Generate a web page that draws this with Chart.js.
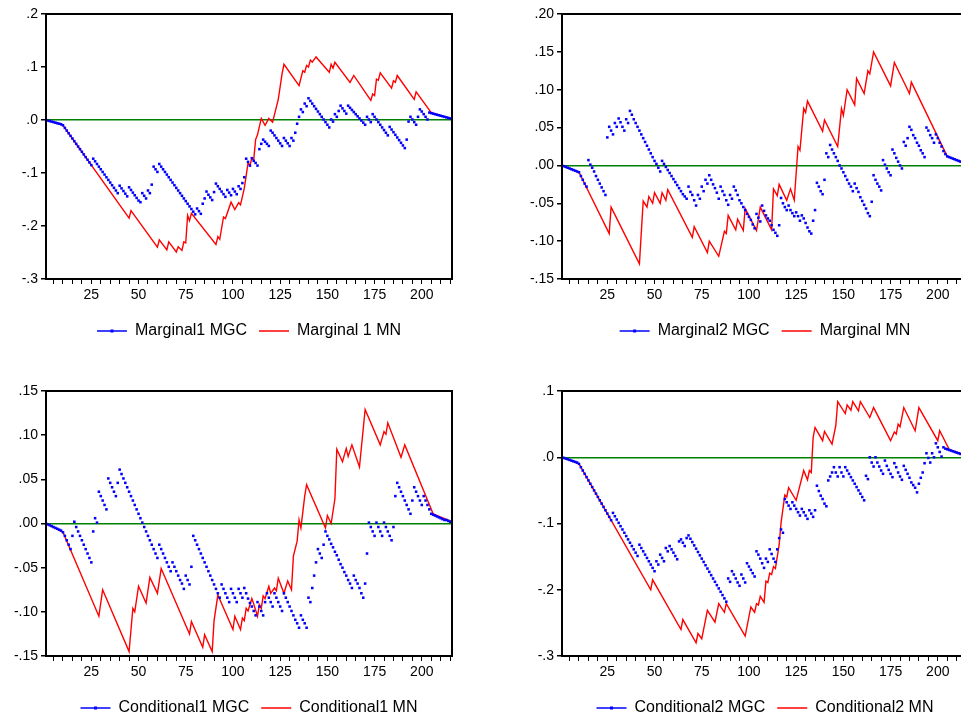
<!DOCTYPE html>
<html>
<head>
<meta charset="utf-8">
<script src="https://cdn.jsdelivr.net/npm/chart.js@4.4.1/dist/chart.umd.min.js"></script>
<style>
  html, body { margin: 0; padding: 0; background: #fff; }
  #page { position: relative; width: 961px; height: 719px; overflow: hidden; background: #fff; }
  #page canvas { position: absolute; }
</style>
</head>
<body>
<div id="page">
  <canvas id="c1" width="480" height="362" style="left:0;top:0"></canvas>
  <canvas id="c2" width="480" height="362" style="left:516px;top:0"></canvas>
  <canvas id="c3" width="480" height="362" style="left:0;top:377px"></canvas>
  <canvas id="c4" width="480" height="362" style="left:516px;top:377px"></canvas>
</div>
<script>
"use strict";

// observations 1..216
const obs = Array.from({length: 216}, (_, i) => i + 1);
const xLabels = [25, 50, 75, 100, 125, 150, 175, 200];

// ---- Marginal 1 ----
const mgc1 = [
  0, -0.001, -0.002, -0.003, -0.004, -0.005, -0.006, -0.007, -0.008, -0.010,
  -0.015, -0.020, -0.025, -0.030, -0.035, -0.040, -0.045, -0.050, -0.055, -0.060,
  -0.065, -0.070, -0.075, -0.080, -0.085, -0.073, -0.078, -0.083, -0.088, -0.093,
  -0.098, -0.103, -0.108, -0.113, -0.118, -0.123, -0.128, -0.133, -0.138, -0.124,
  -0.129, -0.134, -0.139, -0.144, -0.127, -0.132, -0.137, -0.142, -0.147, -0.152,
  -0.155, -0.138, -0.143, -0.148, -0.133, -0.138, -0.122, -0.088, -0.093, -0.098,
  -0.083, -0.088, -0.093, -0.098, -0.103, -0.108, -0.113, -0.118, -0.123, -0.128,
  -0.133, -0.138, -0.143, -0.148, -0.153, -0.158, -0.163, -0.168, -0.173, -0.178,
  -0.167, -0.172, -0.177, -0.158, -0.148, -0.135, -0.141, -0.146, -0.151, -0.136,
  -0.120, -0.125, -0.130, -0.135, -0.140, -0.145, -0.132, -0.137, -0.142, -0.130,
  -0.135, -0.140, -0.125, -0.130, -0.119, -0.108, -0.073, -0.079, -0.086, -0.072,
  -0.077, -0.081, -0.086, -0.055, -0.045, -0.037, -0.041, -0.045, -0.049, -0.020,
  -0.024, -0.029, -0.034, -0.039, -0.044, -0.049, -0.034, -0.039, -0.044, -0.049,
  -0.034, -0.039, -0.024, -0.007, 0.006, 0.020, 0.015, 0.031, 0.026, 0.041,
  0.036, 0.031, 0.026, 0.021, 0.016, 0.011, 0.006, 0.001, -0.004, -0.009,
  -0.014, 0.001, -0.003, 0.011, 0.006, 0.017, 0.027, 0.022, 0.017, 0.012,
  0.027, 0.023, 0.019, 0.015, 0.011, 0.007, 0.003, -0.001, -0.005, -0.009,
  0.006, 0.001, -0.004, 0.011, 0.006, 0.001, -0.004, -0.009, -0.014, -0.019,
  -0.024, -0.029, -0.013, -0.018, -0.023, -0.028, -0.033, -0.038, -0.043, -0.048,
  -0.053, -0.037, -0.003, 0.006, 0.001, -0.004, -0.009, 0.006, 0.020, 0.016,
  0.011, 0.006, 0.001, 0.014, 0.013, 0.012, 0.011, 0.010, 0.009, 0.008,
  0.007, 0.006, 0.005, 0.004, 0.003, 0.002
];
const mn1Obs = [1, 10, 45, 46, 60, 61, 65, 66, 70, 71, 73, 74, 75, 76, 77, 78, 91, 92, 93, 95,
  96, 99, 101, 103, 104, 106, 108, 109, 110, 111, 112, 113, 115, 117, 119, 121, 122, 124, 126, 127,
  135, 137, 138, 139, 140, 141, 142, 144, 151, 152, 153, 154, 162, 164, 173, 174, 175, 176, 177, 178,
  184, 185, 186, 187, 196, 197, 205, 216];
const mn1Val = [0, -0.010, -0.185, -0.171, -0.240, -0.226, -0.245, -0.230, -0.249, -0.239,
  -0.246, -0.230, -0.232, -0.180, -0.190, -0.176, -0.235, -0.220, -0.225, -0.183,
  -0.186, -0.155, -0.169, -0.156, -0.160, -0.129, -0.081, -0.086, -0.072, -0.075,
  -0.037, -0.028, 0.003, -0.010, 0.003, -0.004, 0.010, 0.039, 0.087, 0.105,
  0.065, 0.093, 0.090, 0.103, 0.100, 0.113, 0.109, 0.119, 0.090, 0.105,
  0.098, 0.109, 0.071, 0.084, 0.037, 0.049, 0.046, 0.077, 0.075, 0.089,
  0.060, 0.074, 0.071, 0.084, 0.039, 0.053, 0.014, 0.002];
const y1Ticks = [-0.3, -0.2, -0.1, 0, 0.1, 0.2];

// ---- Marginal 2 ----
const mgc2 = [
  0, -0.001, -0.002, -0.003, -0.004, -0.005, -0.006, -0.007, -0.008, -0.009,
  -0.014, -0.019, -0.024, -0.028, 0.007, 0.001, -0.003, -0.008, -0.014, -0.019,
  -0.024, -0.029, -0.034, -0.039, 0.037, 0.051, 0.046, 0.041, 0.056, 0.051,
  0.062, 0.057, 0.051, 0.046, 0.061, 0.056, 0.072, 0.067, 0.061, 0.056,
  0.051, 0.046, 0.041, 0.036, 0.031, 0.026, 0.021, 0.016, 0.011, 0.006,
  0.002, -0.003, -0.008, 0.006, 0.002, -0.002, -0.006, -0.010, -0.014, -0.018,
  -0.022, -0.026, -0.030, -0.034, -0.038, -0.041, -0.044, -0.028, -0.035, -0.039,
  -0.046, -0.053, -0.039, -0.044, -0.028, -0.034, -0.019, -0.024, -0.013, -0.019,
  -0.025, -0.030, -0.036, -0.044, -0.028, -0.034, -0.039, -0.046, -0.052, -0.039,
  -0.044, -0.028, -0.033, -0.039, -0.046, -0.050, -0.055, -0.059, -0.064, -0.068,
  -0.072, -0.078, -0.083, -0.064, -0.069, -0.074, -0.053, -0.060, -0.066, -0.070,
  -0.073, -0.079, -0.085, -0.089, -0.093, -0.079, -0.043, -0.050, -0.055, -0.059,
  -0.053, -0.059, -0.063, -0.067, -0.062, -0.067, -0.073, -0.066, -0.070, -0.076,
  -0.082, -0.087, -0.090, -0.073, -0.059, -0.023, -0.028, -0.034, -0.038, -0.019,
  0.016, 0.011, 0.027, 0.021, 0.016, 0.011, 0.006, 0.000, -0.004, -0.009,
  -0.014, -0.019, -0.024, -0.028, -0.034, -0.024, -0.030, -0.035, -0.042, -0.047,
  -0.052, -0.057, -0.063, -0.067, -0.048, -0.013, -0.019, -0.024, -0.028, -0.033,
  0.007, 0.001, -0.004, -0.009, -0.013, 0.021, 0.016, 0.010, 0.005, 0.000,
  -0.004, 0.031, 0.026, 0.036, 0.051, 0.047, 0.040, 0.036, 0.030, 0.026,
  0.020, 0.016, 0.011, 0.050, 0.046, 0.040, 0.036, 0.030, 0.041, 0.036,
  0.030, 0.025, 0.019, 0.015, 0.012, 0.011, 0.010, 0.009, 0.008, 0.007,
  0.006, 0.005, 0.004, 0.003, 0.003, 0.002
];
const mn2Obs = [1, 10, 26, 27, 42, 44, 46, 47, 49, 50, 53, 54, 56, 57, 70, 71, 78, 79, 84, 87,
  88, 89, 93, 94, 97, 98, 104, 106, 112, 113, 115, 116, 120, 122, 124, 126, 127, 129, 130, 131,
  139, 140, 147, 149, 150, 152, 156, 157, 161, 163, 164, 166, 175, 177, 185, 186, 205, 216];
const mn2Val = [0, -0.009, -0.090, -0.055, -0.130, -0.047, -0.055, -0.041, -0.050, -0.036,
  -0.050, -0.036, -0.046, -0.032, -0.095, -0.081, -0.115, -0.100, -0.120, -0.087,
  -0.090, -0.066, -0.085, -0.071, -0.086, -0.057, -0.086, -0.055, -0.085, -0.031,
  -0.040, -0.025, -0.046, -0.031, -0.046, 0.025, 0.020, 0.075, 0.070, 0.085,
  0.045, 0.060, 0.025, 0.075, 0.066, 0.100, 0.080, 0.115, 0.095, 0.125,
  0.121, 0.150, 0.105, 0.136, 0.095, 0.110, 0.012, 0.002];
const y2Ticks = [-0.15, -0.10, -0.05, 0, 0.05, 0.10, 0.15, 0.20];

// ---- Conditional 1 ----
const mgc3 = [
  0, -0.001, -0.002, -0.003, -0.004, -0.005, -0.006, -0.007, -0.008, -0.010,
  -0.014, -0.019, -0.024, -0.029, -0.014, 0.002, -0.004, -0.009, -0.014, -0.019,
  -0.024, -0.029, -0.034, -0.039, -0.044, -0.009, 0.006, 0.001, 0.036, 0.031,
  0.026, 0.021, 0.016, 0.051, 0.046, 0.041, 0.036, 0.031, 0.046, 0.061,
  0.056, 0.051, 0.046, 0.041, 0.036, 0.031, 0.026, 0.021, 0.016, 0.011,
  0.006, 0.001, -0.004, -0.009, -0.014, -0.019, -0.024, -0.029, -0.034, -0.039,
  -0.024, -0.029, -0.034, -0.039, -0.044, -0.049, -0.054, -0.044, -0.049, -0.054,
  -0.059, -0.064, -0.068, -0.074, -0.059, -0.064, -0.069, -0.049, -0.014, -0.019,
  -0.024, -0.029, -0.034, -0.039, -0.044, -0.049, -0.054, -0.059, -0.064, -0.069,
  -0.074, -0.079, -0.084, -0.069, -0.074, -0.079, -0.084, -0.089, -0.074, -0.079,
  -0.084, -0.089, -0.074, -0.079, -0.084, -0.073, -0.079, -0.085, -0.090, -0.094,
  -0.099, -0.104, -0.089, -0.094, -0.099, -0.104, -0.089, -0.079, -0.084, -0.089,
  -0.094, -0.079, -0.084, -0.089, -0.094, -0.099, -0.079, -0.084, -0.089, -0.094,
  -0.099, -0.104, -0.109, -0.113, -0.118, -0.104, -0.109, -0.113, -0.118, -0.084,
  -0.089, -0.073, -0.059, -0.044, -0.029, -0.034, -0.039, -0.024, -0.009, -0.014,
  -0.018, -0.023, -0.027, -0.032, -0.036, -0.041, -0.046, -0.050, -0.055, -0.059,
  -0.064, -0.068, -0.073, -0.059, -0.064, -0.068, -0.073, -0.079, -0.084, -0.068,
  -0.034, 0.001, -0.004, -0.009, -0.014, 0.001, -0.004, -0.009, -0.014, 0.001,
  -0.004, -0.009, -0.014, -0.019, -0.004, 0.031, 0.046, 0.041, 0.036, 0.031,
  0.026, 0.021, 0.016, 0.011, 0.026, 0.041, 0.036, 0.031, 0.026, 0.021,
  0.031, 0.026, 0.021, 0.016, 0.011, 0.010, 0.009, 0.008, 0.007, 0.006,
  0.005, 0.004, 0.004, 0.003, 0.002, 0.002
];
const mn3Obs = [1, 10, 29, 31, 45, 47, 48, 50, 54, 56, 60, 62, 77, 78, 84, 85, 89, 90, 92, 100,
  101, 104, 105, 106, 107, 108, 110, 111, 113, 114, 115, 116, 117, 119, 120, 122, 123, 124, 127, 129,
  131, 132, 134, 135, 136, 138, 139, 149, 150, 152, 154, 155, 158, 160, 161, 163, 167, 170, 178, 180,
  181, 182, 189, 191, 206, 216];
const mn3Val = [0, -0.010, -0.105, -0.075, -0.145, -0.096, -0.100, -0.071, -0.090, -0.061,
  -0.079, -0.051, -0.125, -0.111, -0.140, -0.126, -0.145, -0.110, -0.081, -0.120,
  -0.105, -0.120, -0.107, -0.110, -0.096, -0.099, -0.085, -0.091, -0.105, -0.092,
  -0.096, -0.082, -0.085, -0.071, -0.079, -0.073, -0.076, -0.062, -0.079, -0.065,
  -0.075, -0.037, -0.020, 0.004, -0.005, 0.031, 0.044, -0.005, 0.009, 0.000,
  0.028, 0.084, 0.070, 0.085, 0.076, 0.089, 0.064, 0.129, 0.089, 0.104,
  0.101, 0.114, 0.075, 0.089, 0.011, 0.002];
const y3Ticks = [-0.15, -0.10, -0.05, 0, 0.05, 0.10, 0.15];

// ---- Conditional 2 ----
const mgc4 = [
  0, -0.001, -0.002, -0.003, -0.004, -0.005, -0.006, -0.007, -0.008, -0.010,
  -0.015, -0.020, -0.025, -0.030, -0.035, -0.040, -0.045, -0.050, -0.055, -0.060,
  -0.065, -0.070, -0.075, -0.080, -0.085, -0.090, -0.095, -0.084, -0.089, -0.094,
  -0.099, -0.104, -0.109, -0.114, -0.119, -0.124, -0.129, -0.134, -0.139, -0.144,
  -0.149, -0.132, -0.137, -0.142, -0.147, -0.152, -0.157, -0.162, -0.167, -0.172,
  -0.157, -0.162, -0.147, -0.152, -0.157, -0.137, -0.142, -0.134, -0.139, -0.144,
  -0.149, -0.154, -0.127, -0.124, -0.129, -0.134, -0.122, -0.118, -0.123, -0.128,
  -0.133, -0.138, -0.143, -0.148, -0.153, -0.158, -0.163, -0.168, -0.173, -0.178,
  -0.183, -0.188, -0.193, -0.198, -0.203, -0.208, -0.213, -0.218, -0.183, -0.188,
  -0.172, -0.177, -0.183, -0.189, -0.194, -0.177, -0.183, -0.189, -0.160, -0.165,
  -0.170, -0.175, -0.180, -0.142, -0.147, -0.153, -0.160, -0.167, -0.153, -0.158,
  -0.139, -0.146, -0.153, -0.158, -0.139, -0.122, -0.109, -0.114, -0.063, -0.068,
  -0.073, -0.078, -0.068, -0.073, -0.078, -0.083, -0.088, -0.078, -0.083, -0.088,
  -0.093, -0.080, -0.085, -0.090, -0.080, -0.043, -0.051, -0.058, -0.063, -0.070,
  -0.074, -0.035, -0.029, -0.023, -0.015, -0.023, -0.029, -0.015, -0.023, -0.029,
  -0.015, -0.020, -0.025, -0.030, -0.035, -0.040, -0.045, -0.050, -0.055, -0.060,
  -0.065, -0.028, -0.033, 0.000, -0.008, -0.014, 0.000, -0.008, -0.014, -0.020,
  -0.025, -0.005, -0.013, -0.019, -0.025, -0.030, -0.009, -0.015, -0.023, -0.029,
  -0.034, -0.013, -0.019, -0.025, -0.031, -0.038, -0.042, -0.046, -0.053, -0.040,
  -0.031, -0.023, -0.009, 0.006, -0.001, -0.008, 0.006, 0.000, 0.021, 0.015,
  0.008, 0.001, 0.015, 0.013, 0.012, 0.011, 0.010, 0.009, 0.008, 0.007,
  0.006, 0.005, 0.004, 0.003, 0.003, 0.002
];
const mn4Obs = [1, 10, 48, 49, 64, 65, 72, 73, 75, 78, 82, 84, 87, 88, 98, 101, 103, 104, 105, 106,
  108, 109, 110, 111, 112, 113, 114, 116, 117, 119, 120, 121, 125, 129, 131, 132, 133, 134, 135, 139,
  140, 144, 146, 147, 151, 152, 154, 155, 158, 159, 164, 166, 175, 177, 178, 179, 180, 182, 188, 190,
  200, 201, 206, 216];
const mn4Val = [0, -0.010, -0.200, -0.185, -0.260, -0.245, -0.280, -0.266, -0.274, -0.231,
  -0.249, -0.221, -0.234, -0.221, -0.270, -0.226, -0.234, -0.221, -0.223, -0.210,
  -0.219, -0.187, -0.189, -0.175, -0.177, -0.165, -0.168, -0.132, -0.099, -0.057,
  -0.060, -0.046, -0.065, -0.020, -0.034, -0.020, -0.023, 0.030, 0.045, 0.025,
  0.039, 0.020, 0.048, 0.084, 0.066, 0.079, 0.071, 0.084, 0.070, 0.084,
  0.060, 0.075, 0.025, 0.038, 0.035, 0.050, 0.046, 0.075, 0.040, 0.075,
  0.025, 0.040, 0.012, 0.002];
const y4Ticks = [-0.3, -0.2, -0.1, 0, 0.1];

Chart.defaults.font.family = "'Liberation Sans', Arial, sans-serif";
Chart.defaults.color = "#000";

// black box round the plot area, plus the marker on the blue legend line
const frame = {
  id: "frame",
  afterDraw(chart) {
    const a = chart.chartArea, ctx = chart.ctx;
    ctx.save();
    ctx.strokeStyle = "#000";
    ctx.lineWidth = 2;
    ctx.strokeRect(a.left, a.top, a.right - a.left, a.bottom - a.top);
    const hb = chart.legend && chart.legend.legendHitBoxes[0];
    if (hb) {
      ctx.fillStyle = "#0000ff";
      ctx.fillRect(hb.left + 15 - 1.5, hb.top + 8 - 1.5, 3, 3);
    }
    ctx.restore();
  }
};

function fmt(v, d) {
  if (Math.abs(v) < 1e-9) v = 0;
  return v.toFixed(d).replace("0.", ".");
}

// legend entries drawn as short lines in each series colour
function legendItems(chart) {
  const items = Chart.defaults.plugins.legend.labels.generateLabels(chart);
  items.forEach((it, i) => {
    it.strokeStyle = chart.data.datasets[i].borderColor;
    it.lineWidth = 1.5;
  });
  return items;
}

function panel(id, mgc, mnObs, mnVal, names, yTicks, dec) {
  const minor = [];
  for (let v = 5; v < 216; v += 5) minor.push(v);

  new Chart(document.getElementById(id), {
    type: "line",
    data: {
      datasets: [{
        label: names[0],
        data: mgc.map((v, i) => ({x: obs[i], y: v})),
        showLine: false,
        pointStyle: "rect",
        pointRadius: 1.8,
        pointBorderWidth: 0,
        pointBackgroundColor: "#0000ff",
        borderColor: "#0000ff",
        borderWidth: 1.5
      }, {
        label: names[1],
        data: mnObs.map((x, i) => ({x: x, y: mnVal[i]})),
        borderColor: "#ff0000",
        borderWidth: 1.4,
        pointRadius: 0,
        tension: 0
      }]
    },
    options: {
      responsive: false,
      animation: false,
      devicePixelRatio: 1,
      layout: {padding: {left: 0, right: 28, top: 14, bottom: 13}},
      plugins: {
        legend: {
          position: "bottom",
          fullSize: false,
          labels: {
            usePointStyle: true,
            pointStyle: "line",
            pointStyleWidth: 30,
            padding: 12,
            color: "#000",
            font: {size: 16},
            generateLabels: legendItems
          }
        },
        tooltip: {enabled: false}
      },
      scales: {
        x: {
          type: "linear",
          min: 1,
          max: 216,
          afterBuildTicks: s => { s.ticks = minor.map(v => ({value: v})); },
          afterFit: s => { s.height = 32; },
          ticks: {
            autoSkip: false,
            maxRotation: 0,
            padding: 3,
            font: {size: 14},
            callback: v => xLabels.includes(v) ? String(v) : ""
          },
          grid: {drawOnChartArea: false, tickLength: 5, tickColor: "#000", lineWidth: 1},
          border: {color: "#000", width: 2}
        },
        y: {
          min: yTicks[0],
          max: yTicks[yTicks.length - 1],
          afterBuildTicks: s => { s.ticks = yTicks.map(v => ({value: v})); },
          afterFit: s => { s.width = 46; },
          ticks: {font: {size: 14}, padding: 3, callback: v => fmt(v, dec)},
          grid: {
            color: c => (c.tick && c.tick.value === 0) ? "#008000" : "rgba(0,0,0,0)",
            lineWidth: 1.5,
            tickLength: 5,
            tickColor: "#000"
          },
          border: {color: "#000", width: 2}
        }
      }
    },
    plugins: [frame]
  });
}

panel("c1", mgc1, mn1Obs, mn1Val, ["Marginal1 MGC", "Marginal 1 MN"], y1Ticks, 1);
panel("c2", mgc2, mn2Obs, mn2Val, ["Marginal2 MGC", "Marginal MN"], y2Ticks, 2);
panel("c3", mgc3, mn3Obs, mn3Val, ["Conditional1 MGC", "Conditional1 MN"], y3Ticks, 2);
panel("c4", mgc4, mn4Obs, mn4Val, ["Conditional2 MGC", "Conditional2 MN"], y4Ticks, 1);
</script>
</body>
</html>
